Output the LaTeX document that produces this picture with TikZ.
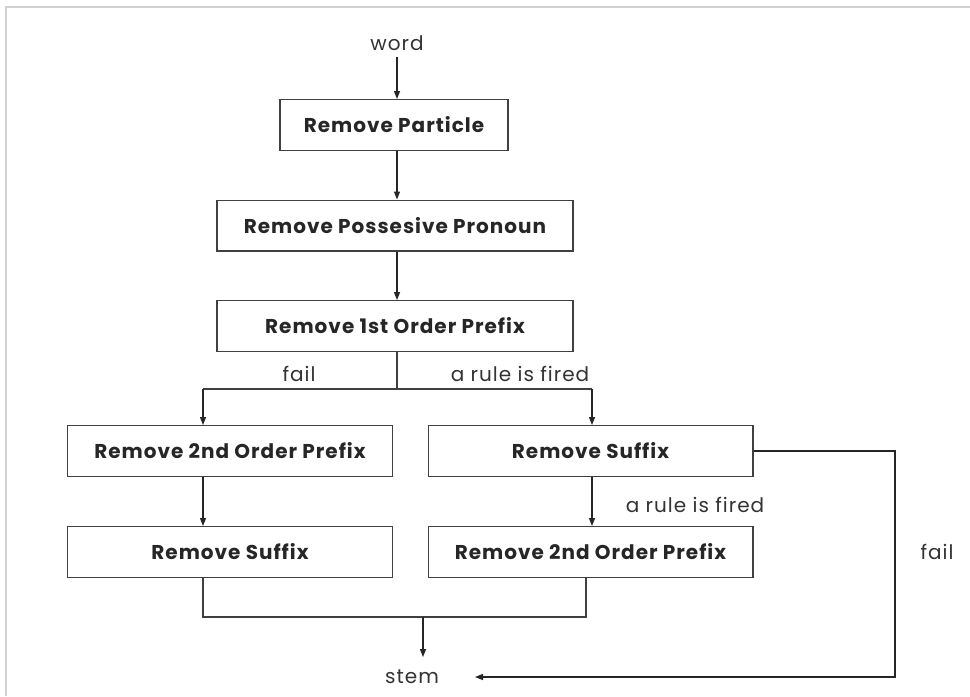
\documentclass[tikz,border=0pt]{standalone}
\usepackage{fontspec}
\setmainfont{Poppins}[LetterSpace=5]
\usetikzlibrary{arrows.meta}
\begin{document}
\begin{tikzpicture}[x=0.75pt,y=-0.75pt,
  line width=1pt, draw=black!75,
  stepbox/.style={draw=black!75, line width=1pt, rectangle, inner sep=0pt,
    minimum height=38pt, font=\fontsize{15}{17}\selectfont\bfseries, text=black!85},
  wide/.style={stepbox, minimum width=267pt},
  half/.style={stepbox, minimum width=243.5pt},
  lbl/.style={inner sep=0pt, font=\fontsize{15}{17}\selectfont, text=black!80},
  arr/.style={-{Triangle[length=6pt,width=4.5pt]}, black!85}]
\useasboundingbox (0,0) rectangle (970,696);
\fill[white] (0,0) rectangle (970,696);
% faint outer frame
\draw[black!18, line width=0.8pt] (6,696) -- (6,7) -- (970,7);

% main column and routing points
\coordinate (col) at (397,0);
\coordinate (split) at (397,389);
\coordinate (lcol) at (203,389);
\coordinate (rcol) at (592,389);
\coordinate (jl) at (203,617);
\coordinate (jr) at (586,617);
\coordinate (js) at (423,617);
\coordinate (fr) at (895,677);
\coordinate (stemin) at (475,677);

% text labels at the ends
\node[lbl] (word) at (397,43) {word};
\node[lbl] (stem) at (412,677) {stem};

% processing steps
\node[stepbox, minimum width=171pt] (part) at (394,125) {Remove Particle};
\node[wide] (pron) at (395,225.5) {Remove Possesive Pronoun};
\node[wide] (pre1) at (395,326) {Remove 1st Order Prefix};
\node[half] (lpre2) at (230,451) {Remove 2nd Order Prefix};
\node[half] (lsuf) at (230,552) {Remove Suffix};
\node[half] (rsuf) at (590.5,451) {Remove Suffix};
\node[half] (rpre2) at (590.5,552) {Remove 2nd Order Prefix};

% branch labels
\node[lbl] (fail1) at (299,374) {fail};
\node[lbl] (fired1) at (520,374) {a rule is fired};
\node[lbl] (fired2) at (695,505) {a rule is fired};
\node[lbl] (fail2) at (937,552) {fail};

% connectors
\draw[arr] (col |- 0,57) -- (col |- part.north);
\draw[arr] (col |- part.south) -- (col |- pron.north);
\draw[arr] (col |- pron.south) -- (col |- pre1.north);
\draw (col |- pre1.south) -- (split);
\draw (lcol) -- (rcol);
\draw[arr] (lcol) -- (lcol |- lpre2.north);
\draw[arr] (rcol) -- (rcol |- rsuf.north);
\draw[arr] (lcol |- lpre2.south) -- (lcol |- lsuf.north);
\draw[arr] (rcol |- rsuf.south) -- (rcol |- rpre2.north);
\draw (lcol |- lsuf.south) -- (jl) -- (jr) -- (jr |- rpre2.south);
\draw[arr] (js) -- (js |- 0,657);
\draw[arr] (rsuf.east) -| (fr) -- (stemin);
\end{tikzpicture}
\end{document}
